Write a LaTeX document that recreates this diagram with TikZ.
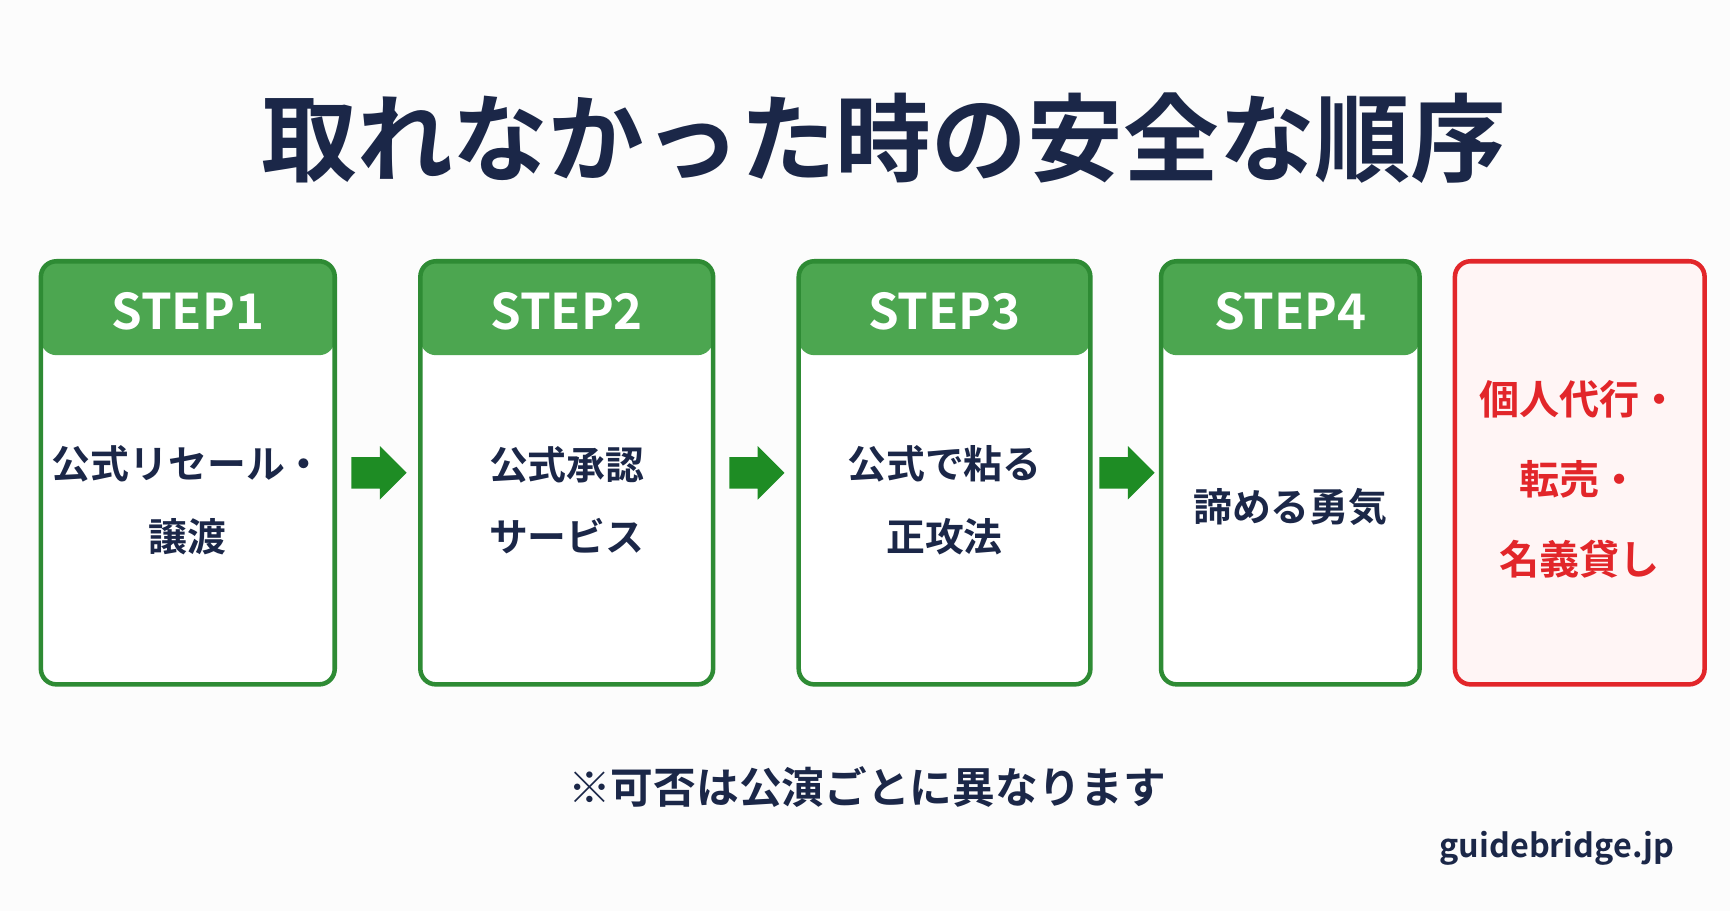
\documentclass[tikz,border=0pt]{standalone}
\usepackage{fontspec}
\setmainfont{Noto Sans CJK JP}[BoldFont={* Bold}]
\usetikzlibrary{shapes.arrows}
\definecolor{navy}{HTML}{1B2748}
\definecolor{hdrgreen}{HTML}{4CA650}
\definecolor{boxgreen}{HTML}{2E8B34}
\definecolor{arrowgreen}{HTML}{1E8C24}
\definecolor{warnred}{HTML}{E2262A}
\definecolor{warnbg}{HTML}{FFF5F5}
\tikzset{
  stepbox/.style={draw=boxgreen, line width=3.5pt, fill=white, rounded corners=12pt,
    minimum height=383*0.03cm, inner sep=0pt, text=navy, font=\bfseries\fontsize{30}{56}\selectfont,
    align=center,
    path picture={\fill[hdrgreen] (path picture bounding box.north west)
      rectangle ([yshift=-85*0.03cm]path picture bounding box.north east);}},
  steplabel/.style={text=white, font=\bfseries\fontsize{38}{40}\selectfont},
  warnbox/.style={draw=warnred, line width=3.5pt, fill=warnbg, rounded corners=12pt,
    minimum height=383*0.03cm, inner sep=0pt},
  warntext/.style={text=warnred, font=\bfseries\fontsize{31}{62}\selectfont, align=center},
  nextarrow/.style={single arrow, fill=arrowgreen, minimum width=48*0.03cm,
    minimum height=50*0.03cm, single arrow head extend=10*0.03cm,
    inner xsep=0pt, inner ysep=14*0.03cm},
}
\begin{document}
\begin{tikzpicture}[x=0.03cm, y=-0.03cm]
\fill[white!97!black!40!white] (0,0) rectangle (1566,825);
\useasboundingbox (0,0) rectangle (1566,825);
% title
\node[text=navy, font=\bfseries\fontsize{74}{80}\selectfont] (title) at (800,125) {取れなかった時の安全な順序};
% steps
\node[stepbox, minimum width=266*0.03cm] (s1) at (170,428) {\\[12pt]公式リセール・\\譲渡};
\node[stepbox, minimum width=265*0.03cm] (s2) at (513,428) {\\[12pt]公式承認\\サービス};
\node[stepbox, minimum width=264*0.03cm] (s3) at (855,428) {\\[12pt]公式で粘る\\正攻法};
\node[stepbox, minimum width=234*0.03cm] (s4) at (1168,428) {\\[22pt]諦める勇気};
\node[warnbox, minimum width=226*0.03cm] (ng) at (1430,428) {};
\node[warntext] (ngtext) at (1430,434) {個人代行・\\転売・\\名義貸し};
\foreach \s/\n in {s1/1,s2/2,s3/3,s4/4}
  \node[steplabel] (h\n) at ([yshift=-47*0.03cm]\s.north) {STEP\n};
% arrows
\node[nextarrow] (a1) at (336,428) {};
\node[nextarrow] (a2) at (678,428) {};
\node[nextarrow] (a3) at (1013,428) {};
% notes
\node[text=navy, font=\bfseries\fontsize{33}{36}\selectfont] (note) at (785,712) {※可否は公演ごとに異なります};
\node[text=navy, font=\bfseries\fontsize{25}{28}\selectfont, anchor=east] (site) at (1520,768) {guidebridge.jp};
\end{tikzpicture}
\end{document}
